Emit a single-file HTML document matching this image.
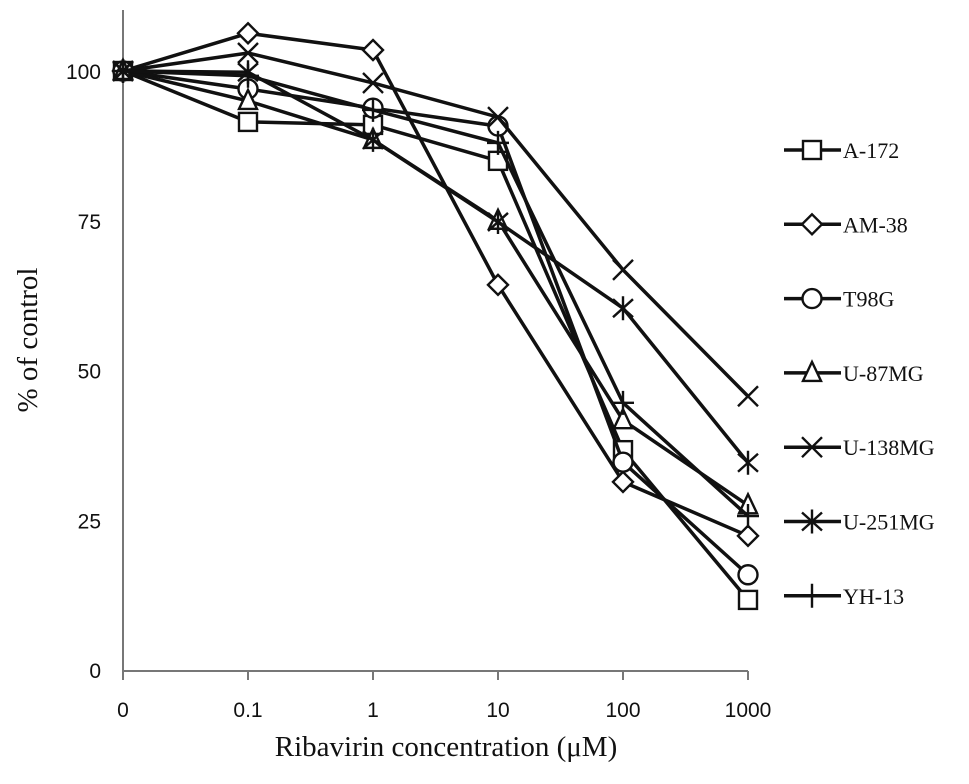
<!DOCTYPE html>
<html><head><meta charset="utf-8"><style>
body{margin:0;background:#fff}
svg{display:block}
text{font-family:"Liberation Serif",serif;fill:#111}
.tick{font-family:"Liberation Sans",sans-serif;font-size:21px}
</style></head><body>
<svg id="chart" width="969" height="784" viewBox="0 0 969 784">
<g id="axes"></g><g id="series"></g><g id="legend"></g>
<text x="446" y="756" text-anchor="middle" font-size="29">Ribavirin concentration (μM)</text>
<text transform="translate(37,340) rotate(-90)" text-anchor="middle" font-size="29">% of control</text>
</svg>
<script>
const categories=["0","0.1","1","10","100","1000"];
const yTicks=[0,25,50,75,100];
const seriesNames=["A-172","AM-38","T98G","U-87MG","U-138MG","U-251MG","YH-13"];
const markers=["square","diamond","circle","triangle","x","asterisk","plus"];
const vA172=[100,91.5,91,85,36.7,11.7];
const vAM38=[100,106.3,103.5,64.3,31.4,22.4];
const vT98G=[100,97,93.8,90.8,34.7,15.9];
const vU87=[100,95,88.5,75,41.7,27.5];
const vU138=[100,103,98,92.3,66.8,45.7];
const vU251=[100,99.8,88.5,74.8,60.4,34.6];
const vYH13=[100,99.2,93.5,88,44.6,25.7];
const allValues=[vA172,vAM38,vT98G,vU87,vU138,vU251,vYH13];

const NS="http://www.w3.org/2000/svg";
const xs=i=>123+i*125;
const ys=v=>670-v*5.99;
function mk(tag,attrs,parent){const e=document.createElementNS(NS,tag);for(const k in attrs)e.setAttribute(k,attrs[k]);parent.appendChild(e);return e;}
const axes=document.getElementById('axes');
let a=mk('line',{x1:123,y1:10,x2:123,y2:671,stroke:'#777','stroke-width':2},axes);


a=mk('line',{x1:122,y1:671,x2:748,y2:671,stroke:'#777','stroke-width':2},axes);


yTicks.forEach(t=>{const e=mk('text',{x:101,y:ys(t)+8,'text-anchor':'end',class:'tick'},axes);e.textContent=t;

});
categories.forEach((c,i)=>{
 mk('line',{x1:xs(i),y1:671,x2:xs(i),y2:680,stroke:'#777','stroke-width':2},axes);
 const e=mk('text',{x:xs(i),y:717,'text-anchor':'middle',class:'tick'},axes);e.textContent=c;

});

function marker(type,x,y,p){
 const st={stroke:'#111','stroke-width':2.4,fill:'#fff'};
 let e;
 if(type==='square')e=mk('rect',Object.assign({x:x-9,y:y-9,width:18,height:18},st),p);
 else if(type==='diamond')e=mk('polygon',Object.assign({points:`${x},${y-10} ${x+10},${y} ${x},${y+10} ${x-10},${y}`},st),p);
 else if(type==='circle')e=mk('circle',Object.assign({cx:x,cy:y,r:9.5},st),p);
 else if(type==='triangle')e=mk('polygon',Object.assign({points:`${x},${y-11} ${x+9},${y+8} ${x-9},${y+8}`},st),p);
 else if(type==='x')e=mk('path',Object.assign({d:`M${x-10} ${y-10}L${x+10} ${y+10}M${x+10} ${y-10}L${x-10} ${y+10}`},st),p);
 else if(type==='asterisk')e=mk('path',Object.assign({d:`M${x-10} ${y-9}L${x+10} ${y+9}M${x+10} ${y-9}L${x-10} ${y+9}M${x} ${y-12}L${x} ${y+12}`},st),p);
 else e=mk('path',Object.assign({d:`M${x-11} ${y}L${x+11} ${y}M${x} ${y-12}L${x} ${y+12}`},st),p);
 
 
}
const sg=document.getElementById('series');
allValues.forEach((vals,s)=>{
 const g=mk('g',{},sg);
 
 
 const pts=vals.map((v,i)=>xs(i)+','+ys(v)).join(' ');
 mk('polyline',{points:pts,fill:'none',stroke:'#111','stroke-width':3.5},g);
 vals.forEach((v,i)=>marker(markers[s],xs(i),ys(v),g));
});
const lg=document.getElementById('legend');
seriesNames.forEach((n,s)=>{
 const y=150+s*74.3;
 const g=mk('g',{},lg);
 
 
 mk('line',{x1:784,y1:y,x2:841,y2:y,stroke:'#111','stroke-width':3.5},g);
 marker(markers[s],812,y,g);
 const t=mk('text',{x:843,y:y+8,'font-size':22},g);t.textContent=n;
});
</script>
</body></html>
